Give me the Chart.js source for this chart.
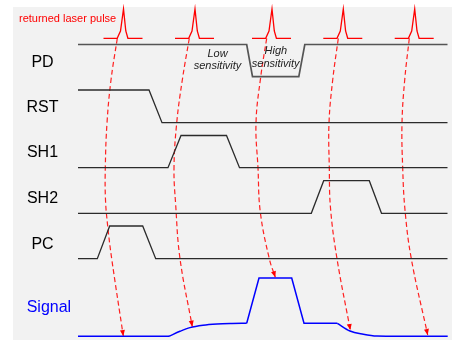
<!DOCTYPE html>
<html>
<head>
<meta charset="utf-8">
<script src="https://cdn.jsdelivr.net/npm/chart.js@4"></script>
<style>
html,body{margin:0;padding:0;background:#fff;}
#wrap{width:452px;height:340px;position:relative;}
</style>
</head>
<body>
<div id="wrap"><canvas id="c"></canvas></div>
<script>
// ---- data (time axis t, level axis y in diagram units) ----
const pulseTimes = [123.5, 195, 272, 343.3, 414.7];
const pulseShapeDt = [-20, -6.3, -3, 0, 2.3, 4.4, 19];
const pulseShapeY  = [38.3, 38.3, 31, 9, 31, 38.3, 38.3];

const pdT  = [78, 246.7, 252.5, 298.8, 304.8, 447.5];
const pdY  = [44.5, 44.5, 76.7, 76.7, 44.5, 44.5];
const rstT = [78, 149, 162, 447.5];
const rstY = [90, 90, 122.7, 122.7];
const sh1T = [78, 168, 181, 226.5, 239.5, 447.5];
const sh1Y = [167.7, 167.7, 135.5, 135.5, 167.7, 167.7];
const sh2T = [78, 311.3, 323.7, 369.3, 381.5, 447.5];
const sh2Y = [213.3, 213.3, 180.7, 180.7, 213.3, 213.3];
const pcT  = [78, 97.3, 109.7, 142.7, 155.7, 447.5];
const pcY  = [258.7, 258.7, 226, 226, 258.7, 258.7];

const sigLinT = [78, 169, null, 246.7, 259, 291.7, 304, 337.3, null, 389, 447.7];
const sigLinY = [336.3, 336.3, null, 323.3, 278, 278, 323.3, 323.3, null, 336.3, 336.3];
const sigRiseT = [169, 180, 190, 203, 217, 232, 246.7];
const sigRiseY = [336.3, 331.3, 327.6, 325.2, 324.0, 323.5, 323.3];
const sigFallT = [337.3, 350, 363.3, 377, 389];
const sigFallY = [323.3, 331, 334.2, 336.1, 336.3];

const arrows = [
  {t:[117.3,111,107,105.3,105.5,107.7,111.7,123.3], y:[38.3,80,123,168,200,226,258.7,336]},
  {t:[189.3,182.3,176.7,174,175.7,180,192.3],       y:[38.3,80,123,168,205,258.7,326.7]},
  {t:[266.7,260.7,256,258,260.3,269.3,275.3],       y:[38.3,77,123,168,212,258.7,277.3]},
  {t:[338.3,332.7,329,329.3,330.5,337,350.3],       y:[38.3,80,123,168,208,258.7,330]},
  {t:[409.3,404.7,402,402.7,405,411.3,427.7],       y:[38.3,80,123,168,210,258.7,335]}
];

const rowLabels = ['PD','RST','SH1','SH2','PC'];
const rowLabelY = [66.5, 111.5, 157, 202.5, 248.5];
const signalLabel = 'Signal';
const pulseLabel = 'returned laser pulse';
const lowText = ['Low','sensitivity'];
const highText = ['High','sensitivity'];

// ---- build datasets ----
const zip = (ts, ys) => ts.map((t, i) => ({x: t, y: ys[i]}));
const LINE = '#2b2b2b';
const datasets = [];
function addLine(pts, color, width, extra) {
  datasets.push(Object.assign({
    data: pts, showLine: true, borderColor: color, borderWidth: width,
    pointRadius: 0, pointHoverRadius: 0, tension: 0, fill: false, spanGaps: false
  }, extra || {}));
}
addLine(zip(pdT, pdY), '#555555', 1.7);
addLine(zip(rstT, rstY), LINE, 1.3);
addLine(zip(sh1T, sh1Y), LINE, 1.3);
addLine(zip(sh2T, sh2Y), LINE, 1.3);
addLine(zip(pcT, pcY), LINE, 1.3);
addLine(zip(sigLinT, sigLinY).map(p => p.x === null ? {x: null, y: null} : p), '#0000ff', 1.5);
addLine(zip(sigRiseT, sigRiseY), '#0000ff', 1.5, {cubicInterpolationMode: 'monotone'});
addLine(zip(sigFallT, sigFallY), '#0000ff', 1.5, {cubicInterpolationMode: 'monotone'});
pulseTimes.forEach(t0 => {
  addLine(pulseShapeDt.map((d, i) => ({x: t0 + d, y: pulseShapeY[i]})), '#ff0000', 1.3);
});
const arrowStart = datasets.length;
arrows.forEach(a => {
  addLine(zip(a.t, a.y), '#ff2020', 1.2, {tension: 0.4, borderDash: [5, 3]});
});

const bgPlugin = {
  id: 'bg',
  beforeDraw(chart) {
    const c = chart.ctx;
    c.save();
    c.fillStyle = '#ffffff';
    c.fillRect(0, 0, chart.width, chart.height);
    c.fillStyle = '#f2f2f2';
    c.fillRect(13, 7, chart.width - 13, chart.height - 7);
    c.restore();
  }
};

const textPlugin = {
  id: 'texts',
  afterDatasetsDraw(chart) {
    const c = chart.ctx;
    const xs = chart.scales.x, ys = chart.scales.y;
    const X = v => xs.getPixelForValue(v), Y = v => ys.getPixelForValue(v);
    c.save();
    // arrow heads
    for (let k = 0; k < arrows.length; k++) {
      const a = arrows[k];
      const n = a.t.length;
      const x1 = X(a.t[n - 1]), y1 = Y(a.y[n - 1]);
      const x0 = X(a.t[n - 2]), y0 = Y(a.y[n - 2]);
      const ang = Math.atan2(y1 - y0, x1 - x0);
      c.fillStyle = '#ff0000';
      c.beginPath();
      c.moveTo(x1, y1);
      c.lineTo(x1 - 6 * Math.cos(ang) + 2.5 * Math.sin(ang), y1 - 6 * Math.sin(ang) - 2.5 * Math.cos(ang));
      c.lineTo(x1 - 6 * Math.cos(ang) - 2.5 * Math.sin(ang), y1 - 6 * Math.sin(ang) + 2.5 * Math.cos(ang));
      c.closePath();
      c.fill();
    }
    c.textBaseline = 'alphabetic';
    c.textAlign = 'center';
    c.fillStyle = '#000000';
    c.font = '16px "Liberation Sans", Arial, sans-serif';
    rowLabels.forEach((s, i) => c.fillText(s, X(42.5), Y(rowLabelY[i])));
    c.textAlign = 'left';
    c.fillStyle = '#0000ff';
    c.fillText(signalLabel, X(26.7), Y(311.5));
    c.fillStyle = '#ff0000';
    c.font = '11px "Liberation Sans", Arial, sans-serif';
    c.fillText(pulseLabel, X(19), Y(21.5));
    c.textAlign = 'center';
    c.fillStyle = '#222222';
    c.font = 'italic 11px "Liberation Sans", Arial, sans-serif';
    c.fillText(lowText[0], X(217.5), Y(57));
    c.fillText(lowText[1], X(217.5), Y(69));
    c.fillText(highText[0], X(275.8), Y(53.5));
    c.fillText(highText[1], X(275.6), Y(66.7));
    c.restore();
  }
};

new Chart(document.getElementById('c'), {
  type: 'scatter',
  data: {datasets},
  options: {
    responsive: true,
    maintainAspectRatio: false,
    animation: false,
    devicePixelRatio: 1,
    layout: {padding: 0},
    plugins: {legend: {display: false}, tooltip: {enabled: false}},
    events: [],
    scales: {
      x: {type: 'linear', min: 0, max: 452, display: false},
      y: {type: 'linear', min: 0, max: 340, reverse: true, display: false}
    }
  },
  plugins: [bgPlugin, textPlugin]
});
</script>
</body>
</html>
